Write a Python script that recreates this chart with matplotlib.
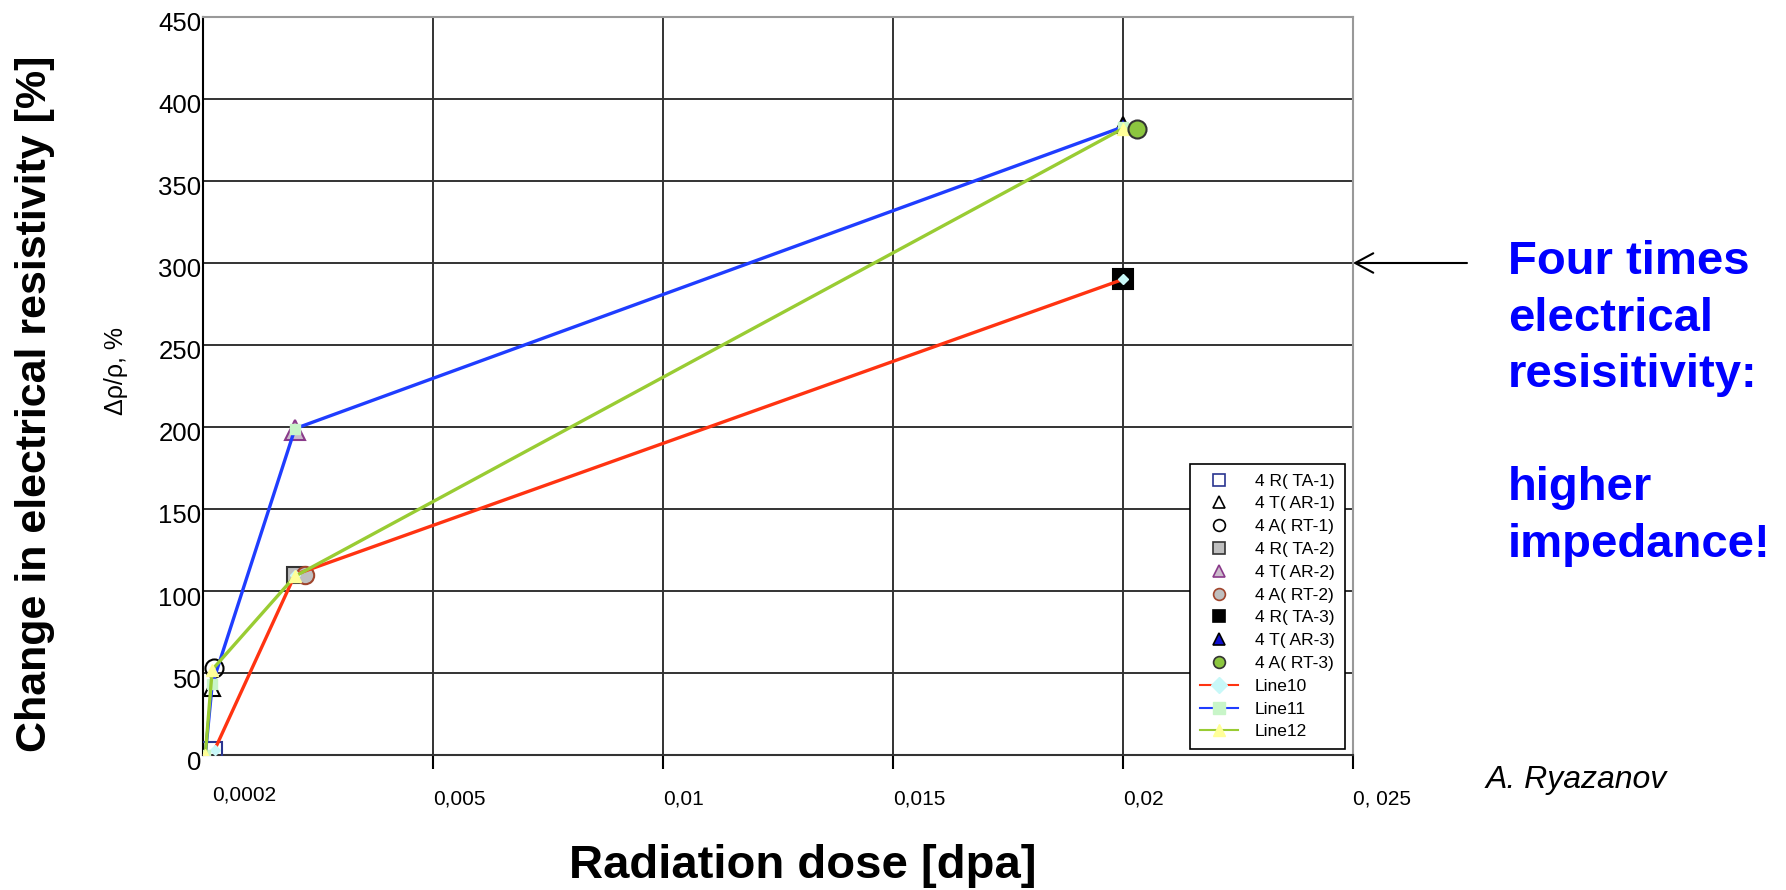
import matplotlib
matplotlib.use("Agg")
import matplotlib.pyplot as plt
import matplotlib.transforms as mtransforms
from matplotlib.lines import Line2D

plt.rcParams["font.family"] = ["Liberation Sans", "DejaVu Sans"]

# measured points: dose [dpa], change of resistivity [%]
dose_ta = [0.0002, 0.002, 0.02]
rho_ta = [2, 110, 290]
dose_ar = [0.0002, 0.002, 0.02]
rho_ar = [41, 198, 384]
dose_rt = [0.00024, 0.00222, 0.0203]
rho_rt = [53, 110, 382]

# connecting lines
line10_x = [0.00025, 0.002, 0.02]
line10_y = [3, 110, 290]
line11_x = [0.00005, 0.0002, 0.002, 0.02]
line11_y = [0, 43, 199, 383]
line12_x = [0.00005, 0.0002, 0.002, 0.02]
line12_y = [0, 52, 109, 382]

point_labels = ["4 R( TA-1)", "4 T( AR-1)", "4 A( RT-1)",
                "4 R( TA-2)", "4 T( AR-2)", "4 A( RT-2)",
                "4 R( TA-3)", "4 T( AR-3)", "4 A( RT-3)"]
line_labels = ["Line10", "Line11", "Line12"]

x_ticks = [0.005, 0.01, 0.015, 0.02, 0.025]
x_tick_labels = ["0,005", "0,01", "0,015", "0,02", "0, 025"]
x_first_tick = [0.0002]
x_first_label = ["0,0002"]
y_ticks = [0, 50, 100, 150, 200, 250, 300, 350, 400, 450]

W, H = 1786, 890


def main():
    fig = plt.figure(figsize=(W / 100, H / 100), dpi=100)
    ax = fig.add_axes([203 / W, 1 - 755 / H, 1150 / W, 738 / H])

    # (x, y, index in series, marker, face, edge, size)
    point_styles = [
        (dose_ta, rho_ta, 0, "s", "none", "#2a3590", 14),
        (dose_ar, rho_ar, 0, "^", "none", "black", 12),
        (dose_rt, rho_rt, 0, "o", "none", "black", 13),
        (dose_ta, rho_ta, 1, "s", "#bfbfbf", "#333333", 11.5),
        (dose_ar, rho_ar, 1, "^", "#cbbccb", "#8a3a8a", 14),
        (dose_rt, rho_rt, 1, "o", "#bfbfbf", "#a0442c", 12.5),
        (dose_ta, rho_ta, 2, "s", "black", "black", 14),
        (dose_ar, rho_ar, 2, "^", "#1010d0", "black", 12),
        (dose_rt, rho_rt, 2, "o", "#8cc63f", "#333333", 13),
    ]
    handles = []
    for x, y, i, m, fc, ec, ms in point_styles:
        ax.plot([x[i]], [y[i]], linestyle="none", marker=m, mfc=fc, mec=ec,
                ms=ms, mew=1.5, zorder=5 if i == 2 and m == "o" else 3)
        handles.append(Line2D([], [], linestyle="none", marker=m, mfc=fc,
                              mec=ec, ms=8.5, mew=1.2))

    line_styles = [
        (line10_x, line10_y, "#ff3311", "D", "#c8f8f8", 5.5),
        (line11_x, line11_y, "#1f3dff", "s", "#c8f5c8", 6.5),
        (line12_x, line12_y, "#99cc33", "^", "#ffff99", 8),
    ]
    for x, y, c, m, fc, ms in line_styles:
        ax.plot(x, y, color=c, lw=2.4, marker=m, mfc=fc, mec=fc, ms=ms,
                zorder=4)
        handles.append(Line2D([], [], color=c, lw=1.5, marker=m, mfc=fc,
                              mec=fc, ms=8.5))

    ax.set_xlim(0, 0.025)
    ax.set_ylim(0, 450)
    ax.set_xticks(x_ticks)
    ax.set_xticklabels(x_tick_labels, fontsize=15, ha="left")
    ax.set_xticks(x_first_tick, minor=True)
    ax.set_xticklabels(x_first_label, minor=True, fontsize=15, ha="left")
    ax.set_yticks(y_ticks)
    ax.set_yticklabels([str(v) for v in y_ticks], fontsize=18.5)
    ax.tick_params(axis="x", which="major", direction="out", length=10,
                   width=1.5, pad=15)
    ax.tick_params(axis="x", which="minor", length=0, pad=22)
    ax.tick_params(axis="y", length=0, pad=1)
    shift = mtransforms.ScaledTranslation(0, -0.05, fig.dpi_scale_trans)
    for lab in ax.get_yticklabels():
        lab.set_transform(lab.get_transform() + shift)

    ax.grid(True, which="major", color="#333333", lw=1.4)
    ax.spines["left"].set_color("black")
    ax.spines["bottom"].set_color("#333333")
    ax.spines["top"].set_color("#999999")
    ax.spines["right"].set_color("#999999")
    for s in ax.spines.values():
        s.set_linewidth(1.5)

    leg = ax.legend(handles, point_labels + line_labels, loc="upper left",
                    bbox_to_anchor=(1190 / W, 1 - 464 / H),
                    bbox_transform=fig.transFigure, fontsize=12.5,
                    fancybox=False, edgecolor="black", framealpha=1,
                    handlelength=2.2, handletextpad=1.0, labelspacing=0.44,
                    borderaxespad=0, borderpad=0.55)
    leg.get_frame().set_linewidth(1.2)

    ax.annotate("", xy=(0.025, 300), xytext=(1467 / W, 300),
                textcoords=("figure fraction", "data"),
                arrowprops=dict(arrowstyle="->,head_length=1.3,head_width=0.7",
                                color="black", lw=1.5, shrinkA=0, shrinkB=0,
                                mutation_scale=10),
                annotation_clip=False)

    fig.text(35 / W, 1 - 404 / H, "Change in electrical resistivity [%]",
             rotation=90, fontsize=31, fontweight="bold",
             ha="center", va="center")
    fig.text(116 / W, 1 - 371 / H, "Δρ/ρ, %", rotation=90, fontsize=18,
             ha="center", va="center")
    fig.text(803 / W, 1 - 866 / H, "Radiation dose [dpa]", fontsize=34,
             fontweight="bold", ha="center", va="center")
    fig.text(1508 / W, 1 - 240 / H,
             "Four times\nelectrical\nresisitivity:\n\nhigher\nimpedance!",
             color="#0000ff", fontsize=34, fontweight="bold",
             ha="left", va="top", linespacing=1.37)
    fig.text(1486 / W, 1 - 780 / H, "A. Ryazanov", fontsize=23,
             style="italic", ha="left", va="center")

    fig.savefig("out.png", dpi=100)


main()
